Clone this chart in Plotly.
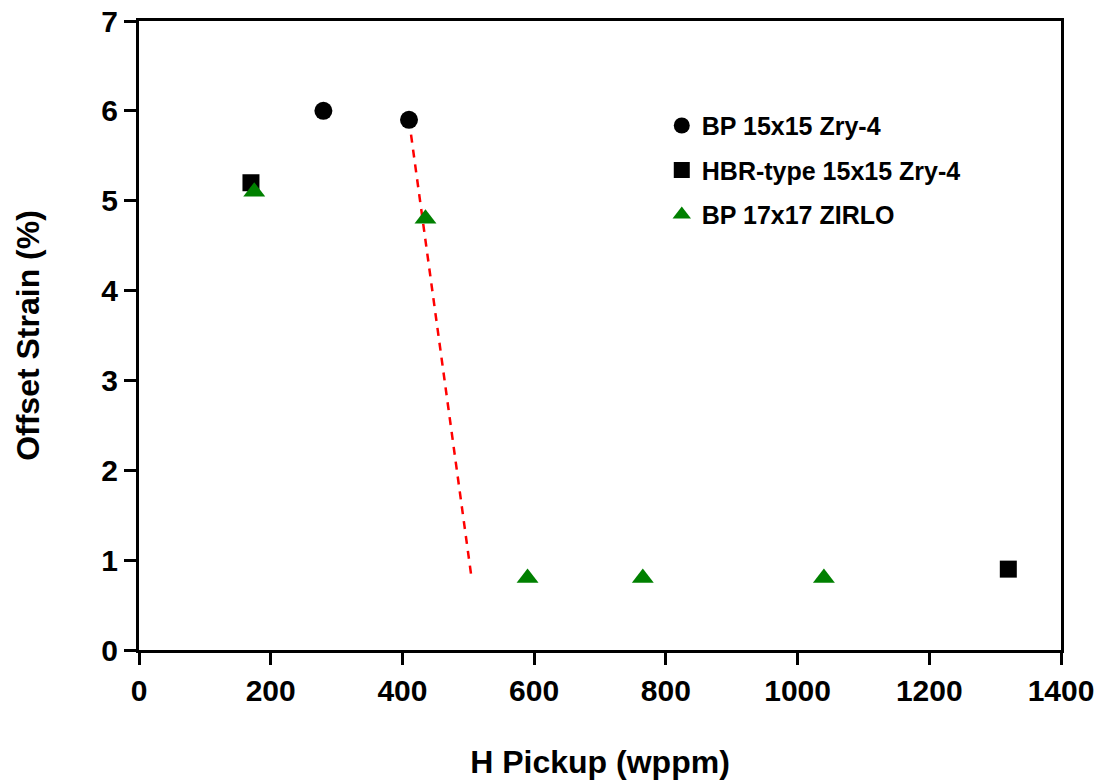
import plotly.graph_objects as go

# Data
bp15_x = [280, 410]
bp15_y = [6.0, 5.9]
hbr_x = [170, 1320]
hbr_y = [5.2, 0.9]
zirlo_x = [175, 435, 590, 765, 1040]
zirlo_y = [5.1, 4.8, 0.8, 0.8, 0.8]
trend_x = [410, 505]
trend_y = [5.9, 0.8]

x_ticks = [0, 200, 400, 600, 800, 1000, 1200, 1400]
y_ticks = [0, 1, 2, 3, 4, 5, 6, 7]

FONT = "Arial, Liberation Sans, sans-serif"

fig = go.Figure()
fig.add_trace(go.Scatter(x=trend_x, y=trend_y, mode="lines",
                         line=dict(color="#ff0000", width=2.5, dash="8px,7px"),
                         showlegend=False, hoverinfo="skip"))
fig.add_trace(go.Scatter(x=bp15_x, y=bp15_y, mode="markers", name="BP 15x15 Zry-4",
                         legendgroup="a",
                         marker=dict(symbol="circle", size=18, color="black")))
fig.add_trace(go.Scatter(x=hbr_x, y=hbr_y, mode="markers", name="HBR-type 15x15 Zry-4",
                         legendgroup="b",
                         marker=dict(symbol="square", size=17, color="black")))
fig.add_trace(go.Scatter(x=zirlo_x, y=zirlo_y, mode="markers", name="BP 17x17 ZIRLO",
                         legendgroup="c",
                         marker=dict(symbol="triangle-up", size=19, color="#008000")))

axis_common = dict(showline=True, linecolor="black", linewidth=3, mirror=True,
                   ticks="outside", ticklen=12, tickwidth=3, tickcolor="black",
                   showgrid=False, zeroline=False, automargin=False,
                   tickfont=dict(family=FONT, size=30, color="black", weight="bold"))

fig.update_xaxes(range=[0, 1400], tickvals=x_ticks,
                 title=dict(text="<b>H Pickup (wppm)</b>", font=dict(family=FONT, size=32, color="black"),
                            standoff=45),
                 **axis_common)
fig.update_yaxes(range=[0, 7], tickvals=y_ticks,
                 title=dict(text="<b>Offset Strain (%)</b>", font=dict(family=FONT, size=32, color="black"),
                            standoff=53),
                 **axis_common)

fig.update_layout(
    width=1103, height=780,
    margin=dict(l=139, r=42, t=21, b=130),
    paper_bgcolor="white", plot_bgcolor="white",
    font=dict(family=FONT, color="black"),
    legend=dict(x=0.567, y=0.87, xanchor="left", yanchor="top",
                font=dict(family=FONT, size=25, color="black", weight="bold"),
                tracegroupgap=9, itemwidth=30, bgcolor="rgba(0,0,0,0)",
                traceorder="grouped"),
)

fig.write_html("out.html")
